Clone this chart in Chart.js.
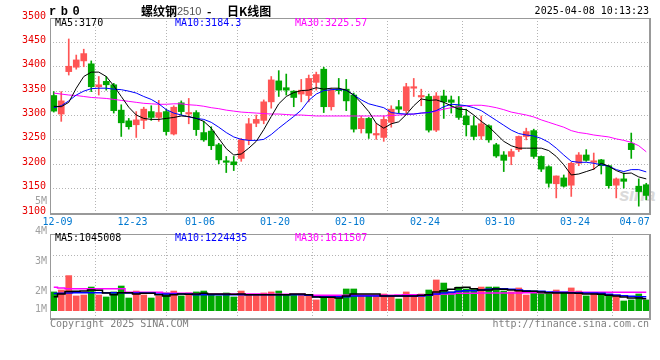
<!DOCTYPE html>
<html><head><meta charset="utf-8">
<script src="https://cdn.jsdelivr.net/npm/chart.js@4/dist/chart.umd.min.js"></script>
<style>
html,body{margin:0;padding:0;background:#fff;}
#wrap{position:relative;width:660px;height:360px;overflow:hidden;font-family:"DejaVu Sans Mono",monospace;font-size:10px;}
.t{position:absolute;white-space:nowrap;line-height:12px;z-index:5;}
canvas{position:absolute;z-index:2;}
#wm{position:absolute;z-index:1;left:619px;top:184px;font:italic bold 19px "Liberation Sans",Arial,sans-serif;color:#dadada;letter-spacing:-0.5px;}
</style></head><body>
<div id="wrap">
<div id="wm">sina</div>
<canvas id="kc" width="660" height="232" style="left:0;top:0;width:660px;height:232px"></canvas>
<canvas id="vc" width="660" height="100" style="left:0;top:228px;width:660px;height:100px"></canvas>
<div class="t" id="sym" style="left:49px;top:5px;font:bold 12px 'Liberation Mono',monospace;letter-spacing:4.5px;">rb0</div>
<div class="t" style="left:141px;top:4px;font:bold 12px 'Noto Sans CJK SC',sans-serif;line-height:13px;" id="tA"></div>
<div class="t" style="left:177px;top:5px;font:11px 'Liberation Sans',sans-serif;color:#555;" id="tB"></div>
<div class="t" style="left:207px;top:4px;font:bold 12px 'Noto Sans CJK SC',sans-serif;line-height:13px;">-</div>
<div class="t" style="left:227px;top:4px;font:bold 12px 'Noto Sans CJK SC',sans-serif;line-height:13px;" id="tC"></div>
<div class="t" style="right:11px;top:5px;" id="ts"></div>
<div class="t" style="left:55px;top:17px;color:#000;" id="m5"></div>
<div class="t" style="left:175px;top:17px;color:#0000ff;" id="m10"></div>
<div class="t" style="left:295px;top:17px;color:#ff00ff;" id="m30"></div>
<div class="t" style="left:55px;top:232px;color:#000;" id="v5"></div>
<div class="t" style="left:175px;top:232px;color:#0000ff;" id="v10"></div>
<div class="t" style="left:295px;top:232px;color:#ff00ff;" id="v30"></div>
<div id="vlab"></div>
<div class="t" style="left:50px;top:318px;color:#808080;" id="cp"></div>
<div class="t" style="right:11px;top:318px;color:#808080;" id="url"></div>
</div>
<script>
// ---------- data ----------
const dates = ['12-06','12-09','12-10','12-11','12-12','12-13','12-16','12-17','12-18','12-19','12-20','12-23','12-24','12-25','12-26','12-27','12-30','12-31','01-02','01-03','01-06','01-07','01-08','01-09','01-10','01-13','01-14','01-15','01-16','01-17','01-20','01-21','01-22','01-23','01-24','01-26','01-27','02-05','02-06','02-07','02-10','02-11','02-12','02-13','02-14','02-17','02-18','02-19','02-20','02-21','02-24','02-25','02-26','02-27','02-28','03-03','03-04','03-05','03-06','03-07','03-10','03-11','03-12','03-13','03-14','03-17','03-18','03-19','03-20','03-21','03-24','03-25','03-26','03-27','03-28','03-31','04-01','04-02','04-03','04-07'];

const openP = [3341,3303,3390,3399,3412,3406,3359,3370,3363,3311, 3289,3281,3290,3308,3296,3308,3262,3326,3303,3306, 3265,3268,3240,3207,3205,3212,3250,3284,3290,3328, 3371,3357,3350,3344,3341,3368,3395,3318,3354,3354, 3342,3273,3294,3260,3255,3286,3318,3310,3356,3338, 3339,3270,3340,3332,3320,3299,3279,3258,3279,3240, 3219,3216,3230,3257,3269,3216,3195,3160,3172,3157, 3202,3219,3204,3209,3197,3157,3170,3243,3155,3158];
const highP = [3349,3349,3457,3424,3436,3412,3380,3380,3366,3322, 3294,3308,3317,3320,3331,3313,3320,3330,3335,3310, 3288,3277,3243,3216,3216,3253,3294,3301,3332,3380, 3392,3385,3351,3374,3383,3389,3399,3356,3376,3374, 3346,3299,3296,3284,3299,3320,3331,3366,3376,3354, 3344,3347,3352,3340,3339,3313,3298,3299,3281,3243, 3226,3231,3258,3274,3272,3217,3197,3176,3178,3204, 3224,3230,3223,3210,3198,3172,3182,3264,3170,3161];
const lowP = [3307,3288,3383,3395,3400,3349,3342,3352,3305,3257, 3272,3255,3273,3290,3288,3260,3260,3301,3283,3259, 3247,3230,3201,3183,3187,3206,3240,3277,3283,3315, 3339,3342,3318,3328,3328,3352,3306,3311,3344,3310, 3266,3264,3253,3251,3247,3276,3305,3305,3339,3320, 3266,3267,3294,3305,3292,3258,3250,3251,3245,3214, 3185,3199,3226,3250,3212,3185,3153,3131,3153,3134, 3197,3206,3189,3180,3151,3131,3151,3212,3114,3127];
const closeP = [3309,3330,3401,3414,3427,3359,3363,3363,3310,3285, 3277,3291,3313,3296,3306,3267,3317,3308,3306,3271, 3250,3238,3209,3204,3199,3250,3283,3292,3328,3373, 3352,3352,3337,3352,3376,3384,3318,3352,3351,3330, 3272,3294,3264,3262,3292,3313,3313,3359,3359,3339, 3270,3340,3328,3327,3296,3281,3257,3283,3250,3217, 3208,3226,3257,3267,3216,3190,3161,3176,3155,3202, 3219,3208,3207,3197,3156,3170,3165,3230,3144,3136];

const ma5 = [3319,3318,3327,3356,3380,3389,3389,3380,3361,3339, 3317,3301,3294,3292,3292,3294,3296,3299,3298,3294, 3288,3274,3253,3232,3219,3221,3233,3247,3271,3298, 3324,3339,3347,3351,3352,3357,3354,3356,3356,3352, 3342,3326,3308,3284,3274,3283,3287,3302,3320,3334, 3331,3332,3327,3320,3313,3312,3301,3288,3277,3262, 3247,3238,3233,3233,3233,3233,3228,3216,3199,3178, 3180,3185,3190,3202,3196,3187,3181,3182,3174,3170];
const ma10 = [3316,3320,3330,3342,3350,3355,3356,3356,3354,3353, 3350,3346,3339,3333,3324,3312,3305,3301,3297,3294, 3292,3286,3276,3265,3256,3251,3249,3249,3251,3261, 3274,3286,3298,3311,3331,3344,3351,3353,3354,3352, 3342,3332,3324,3320,3316,3306,3304,3303,3303,3305, 3306,3310,3318,3323,3322,3320,3316,3310,3300,3290, 3280,3270,3263,3260,3258,3253,3245,3233,3219,3206, 3204,3204,3202,3199,3196,3189,3185,3189,3189,3184.3];
const ma30 = [3346,3344,3342,3341,3339,3337,3336,3335,3333,3331, 3329,3327,3325,3324,3323,3323,3324,3324,3322,3321, 3319,3316,3314,3311,3309,3307,3306,3305,3304,3303, 3303,3302,3301,3301,3300,3299,3299,3299,3299,3299, 3299,3299,3299,3299,3299,3300,3301,3302,3303,3305, 3306,3309,3313,3316,3318,3320,3321,3321,3319,3316, 3312,3307,3304,3301,3297,3291,3286,3281,3276,3269, 3265,3263,3260,3258,3256,3252,3249,3245,3238,3225.57];

const vol = [1640000,1810000,3070000,1290000,1370000,2070000,1370000,1200000,1640000,2160000, 1110000,1720000,1370000,1110000,1290000,1550000,1720000,1290000,1550000,1640000, 1720000,1370000,1290000,1550000,1200000,1720000,1370000,1340000,1550000,1640000, 1720000,1400000,1400000,1400000,1400000,940000,1230000,1250000,1110000,1900000, 1900000,1290000,1290000,1290000,1460000,1290000,1020000,1640000,1290000,1460000, 1810000,2690000,2420000,1640000,2070000,1900000,1850000,2070000,2070000,2070000, 1720000,1640000,1990000,1370000,1720000,1550000,1550000,1810000,1550000,1990000, 1720000,1290000,1550000,1460000,1370000,1290000,850000,940000,1460000,940000];
const vma5 = [1230000,1460000,1680000,1700000,1720000,1800000,1780000,1550000,1400000,1580000, 1580000,1460000,1520000,1520000,1400000,1290000,1400000,1460000,1430000,1460000, 1520000,1460000,1460000,1460000,1430000,1460000,1400000,1400000,1400000,1400000, 1400000,1400000,1460000,1460000,1400000,1200000,1170000,1170000,1110000,1290000, 1460000,1460000,1460000,1460000,1290000,1290000,1290000,1290000,1290000,1340000, 1400000,1640000,1750000,1870000,2000000,2040000,1930000,1810000,1810000,1900000, 1870000,1810000,1750000,1690000,1690000,1640000,1580000,1550000,1550000,1550000, 1520000,1460000,1460000,1430000,1340000,1290000,1200000,1110000,1110000,1045008];
const vma10 = [1500000,1520000,1550000,1580000,1580000,1580000,1580000,1580000,1580000,1580000, 1550000,1550000,1550000,1550000,1460000,1460000,1460000,1460000,1460000,1400000, 1400000,1400000,1400000,1400000,1400000,1400000,1400000,1400000,1400000,1400000, 1400000,1400000,1400000,1400000,1340000,1230000,1230000,1230000,1230000,1230000, 1290000,1290000,1290000,1290000,1290000,1290000,1290000,1290000,1290000,1290000, 1340000,1460000,1550000,1610000,1690000,1750000,1750000,1810000,1870000,1930000, 1930000,1870000,1810000,1750000,1690000,1690000,1640000,1610000,1610000,1580000, 1580000,1550000,1550000,1520000,1430000,1370000,1310000,1260000,1230000,1224435];
const vma30 = [2050000,1990000,1930000,1930000,1930000,1930000,1930000,1930000,1930000,1930000, 1610000,1610000,1610000,1610000,1610000,1520000,1520000,1520000,1520000,1460000, 1460000,1460000,1460000,1460000,1460000,1460000,1460000,1460000,1430000,1430000, 1430000,1430000,1430000,1430000,1370000,1340000,1340000,1340000,1340000,1340000, 1340000,1340000,1340000,1340000,1340000,1340000,1370000,1400000,1400000,1400000, 1400000,1430000,1460000,1460000,1520000,1520000,1520000,1550000,1550000,1550000, 1550000,1550000,1550000,1580000,1580000,1580000,1580000,1610000,1610000,1610000, 1610000,1610000,1610000,1610000,1610000,1610000,1610000,1610000,1610000,1611507];

const xTickIdx = [1, 11, 20, 30, 40, 50, 60, 70];   // dates that get a label + grid line
const priceMin = 3100, priceMax = 3500, priceStep = 50;
const volLabels = ['5M', '4M', '3M', '2M', '1M'];
const volMin = -640000, volMax = 6710000;
const titleParts = ['螺纹钢', '2510', '日K线图'];
const symbolText = 'rb0';
const stamp = '2025-04-08 10:13:23';

// ---------- text ----------
const last = dates.length - 1;
document.getElementById('tA').textContent = titleParts[0];
document.getElementById('tB').textContent = titleParts[1];
document.getElementById('tC').textContent = titleParts[2];
document.getElementById('sym').textContent = symbolText;
document.getElementById('ts').textContent = stamp;
document.getElementById('m5').textContent = 'MA5:' + ma5[last];
document.getElementById('m10').textContent = 'MA10:' + ma10[last];
document.getElementById('m30').textContent = 'MA30:' + ma30[last];
document.getElementById('v5').textContent = 'MA5:' + vma5[last];
document.getElementById('v10').textContent = 'MA10:' + vma10[last];
document.getElementById('v30').textContent = 'MA30:' + vma30[last];
document.getElementById('cp').textContent = 'Copyright 2025 SINA.COM';
document.getElementById('url').textContent = 'http://finance.sina.com.cn';
const vlabTops = [195, 225, 255, 285, 303];
const vl = document.getElementById('vlab');
volLabels.forEach((s, i) => {
  const d = document.createElement('div');
  d.className = 't';
  d.style.cssText = 'right:613px;top:' + vlabTops[i] + 'px;color:#a0a0a0;';
  d.textContent = s;
  vl.appendChild(d);
});

// ---------- charts ----------
Chart.defaults.font.family = "'DejaVu Sans Mono', monospace";
Chart.defaults.font.size = 10;
Chart.defaults.animation = false;

const UP = '#ff5555', DN = '#00a800', GRID = '#b4b4b4', FRAME = '#999999';
const idx = dates.map((d, i) => i);
const barColor = idx.map(i => closeP[i] >= openP[i] ? UP : DN);
const xTickVals = xTickIdx.map(i => i - 0.5);
const xTickLabels = xTickIdx.map(i => dates[i]);
// last label is pushed against the right edge (no grid line there)
const xTickValsK = xTickVals.concat([last - 1.55]);
const xTickLabelsK = xTickLabels.concat([dates[last]]);

const frame = {
  id: 'frame',
  afterDraw(chart) {
    const { ctx, chartArea: a } = chart;
    ctx.save();
    ctx.fillStyle = FRAME;
    const L = Math.round(a.left), T = Math.round(a.top), R = Math.round(a.right), B = Math.round(a.bottom);
    ctx.fillRect(L, T, R - L, 1);
    ctx.fillRect(L, T, 1, B - T);
    ctx.fillRect(R - 1, T, 2, B - T + 2);
    ctx.fillRect(L, B, R - L + 1, 2);
    ctx.restore();
  }
};

const lineDS = (arr, color, w, order, stepped) => ({
  type: 'line',
  data: idx.map(i => ({ x: i, y: arr[i] })),
  borderColor: color, borderWidth: w, pointRadius: 0, tension: 0,
  stepped: stepped || false, order: order, fill: false
});

new Chart(document.getElementById('kc'), {
  data: {
    datasets: [
      lineDS(ma5, '#000000', 1, 0),
      lineDS(ma10, '#0000ff', 1, 1),
      lineDS(ma30, '#ff00ff', 1, 2),
      { type: 'bar', data: idx.map(i => ({ x: i, y: [openP[i], closeP[i]] })),
        backgroundColor: barColor, barThickness: 6, grouped: false, minBarLength: 1.5, order: 3 },
      { type: 'bar', data: idx.map(i => ({ x: i, y: [lowP[i], highP[i]] })),
        backgroundColor: barColor, barThickness: 1, grouped: false, order: 4 }
    ]
  },
  options: {
    responsive: false, devicePixelRatio: 1,
    layout: { padding: { top: 18, right: 10, left: 0, bottom: 0 } },
    plugins: { legend: { display: false }, tooltip: { enabled: false } },
    scales: {
      x: {
        type: 'linear', min: -0.5, max: last + 0.5, offset: false,
        afterBuildTicks: s => { s.ticks = xTickValsK.map(v => ({ value: v })); },
        afterFit: s => { s.height = 19; },
        ticks: { callback: (v, i) => xTickLabelsK[i], color: '#0078d0', autoSkip: false, maxRotation: 0, minRotation: 0, padding: 3 },
        grid: { color: c => (c.tick && c.tick.value > last - 2) ? 'rgba(0,0,0,0)' : GRID, drawTicks: false, lineWidth: 1 },
        border: { display: false, dash: [1, 2] }
      },
      y: {
        type: 'linear', min: priceMin, max: priceMax,
        afterFit: s => { s.width = 50; },
        ticks: { stepSize: priceStep, color: '#e80000', padding: 4, labelOffset: -2, callback: v => String(v) },
        grid: { color: c => (c.tick && (c.tick.value === priceMin || c.tick.value === priceMax)) ? 'rgba(0,0,0,0)' : GRID, drawTicks: false },
        border: { display: false, dash: [1, 2] }
      }
    }
  },
  plugins: [frame]
});

new Chart(document.getElementById('vc'), {
  data: {
    datasets: [
      lineDS(vma5, '#000000', 1.5, 0, 'middle'),
      lineDS(vma10, '#0000ff', 1.5, 1, 'middle'),
      lineDS(vma30, '#ff00ff', 1.5, 2, 'middle'),
      { type: 'bar', data: idx.map(i => ({ x: i, y: vol[i] })),
        backgroundColor: barColor, barThickness: 6, grouped: false, order: 3 }
    ]
  },
  options: {
    responsive: false, devicePixelRatio: 1,
    layout: { padding: { top: 6, right: 10, left: 0, bottom: 10 } },
    plugins: { legend: { display: false }, tooltip: { enabled: false } },
    scales: {
      x: {
        type: 'linear', min: -0.5, max: last + 0.5, offset: false,
        afterBuildTicks: s => { s.ticks = xTickVals.map(v => ({ value: v })); },
        afterFit: s => { s.height = 0; },
        ticks: { display: false },
        grid: { color: GRID, drawTicks: false },
        border: { display: false, dash: [1, 2] }
      },
      y: {
        type: 'linear', min: volMin, max: volMax,
        afterBuildTicks: s => { s.ticks = [0.5, 0.75].map(f => ({ value: volMin + (volMax - volMin) * f })); },
        afterFit: s => { s.width = 50; },
        ticks: { display: false },
        grid: { color: GRID, drawTicks: false },
        border: { display: false, dash: [1, 2] }
      }
    }
  },
  plugins: [frame]
});
</script>
</body></html>
